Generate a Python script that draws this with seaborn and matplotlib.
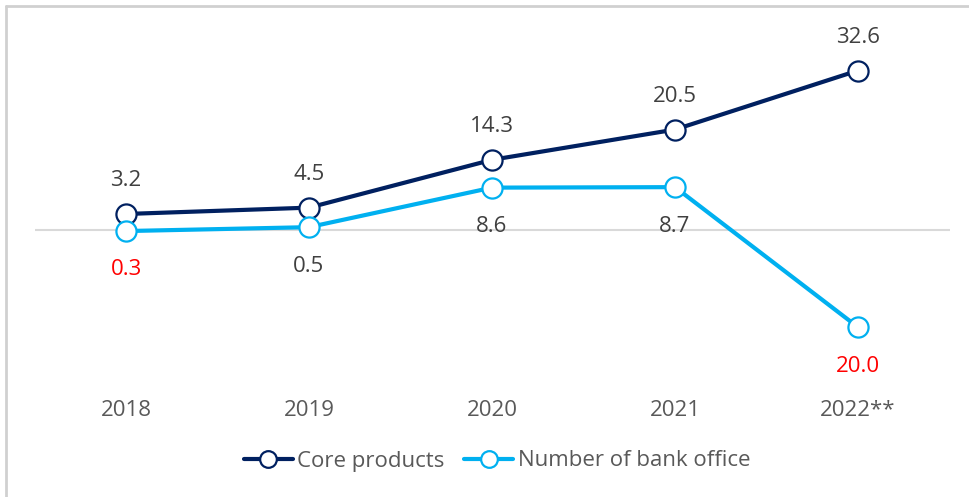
import matplotlib
matplotlib.use("Agg")
import matplotlib.pyplot as plt
from matplotlib.lines import Line2D
import numpy as np
import pandas as pd
import seaborn as sns

# Data
years = ["2018", "2019", "2020", "2021", "2022**"]
core_products = [3.2, 4.5, 14.3, 20.5, 32.6]
bank_office = [-0.3, 0.5, 8.6, 8.7, -20.0]
series_names = ["Core products", "Number of bank office"]

NAVY = "#002060"
SKY = "#00b0f0"
TEXT = "#404040"
NEG = "#ff0000"
FS = 16

sns.set_theme(style="white")
plt.rcParams["font.family"] = ["Open Sans", "DejaVu Sans"]

fig = plt.figure(figsize=(9.69, 4.97), dpi=100)
ax = fig.add_axes([34.5 / 969, 121 / 497, 915 / 969, 341.6 / 497])

pos = np.arange(len(years))
df = pd.DataFrame({
    "pos": np.concatenate([pos, pos]),
    "value": core_products + bank_office,
    "series": [series_names[0]] * len(years) + [series_names[1]] * len(years),
})

ax.axhline(0, color="#d9d9d9", lw=1.5, zorder=1)

for name, color in zip(series_names, [NAVY, SKY]):
    sns.lineplot(
        data=df[df["series"] == name], x="pos", y="value", ax=ax,
        color=color, linewidth=3, marker="o", markersize=14.5,
        markerfacecolor="white", markeredgecolor=color, markeredgewidth=1.6,
        label=name, zorder=3, legend=False,
    )

# Value labels
for x, v in zip(pos, core_products):
    ax.annotate(f"{v:.1f}", (x, v), xytext=(0, 24), textcoords="offset points",
                ha="center", va="center", fontsize=FS, color=TEXT)
for x, v in zip(pos, bank_office):
    ax.annotate(f"{abs(v):.1f}", (x, v), xytext=(0, -28), textcoords="offset points",
                ha="center", va="center", fontsize=FS,
                color=NEG if v < 0 else TEXT)

ax.set_xlim(-0.5, len(years) - 0.5)
ax.set_ylim(-30, 40)
ax.set_xticks(pos)
ax.set_xticklabels(years, fontsize=FS, color="#595959")
ax.tick_params(axis="x", length=0, pad=17)
ax.set_yticks([])
ax.set_xlabel("")
ax.set_ylabel("")
for s in ax.spines.values():
    s.set_visible(False)
ax.patch.set_alpha(0)

handles = [
    Line2D([], [], color=c, lw=3, marker="o", markersize=12,
           markerfacecolor="white", markeredgecolor=c, markeredgewidth=1.6)
    for c in [NAVY, SKY]
]
fig.legend(handles, series_names, loc="center", bbox_to_anchor=(497 / 969, 1 - 461 / 497),
           ncol=2, frameon=False, fontsize=FS, handlelength=2.2, handletextpad=0.2,
           columnspacing=0.9, labelcolor="#595959")

# Panel border along the top and left edges
fig.add_artist(Line2D([5.5 / 969, 1], [1 - 5.5 / 497, 1 - 5.5 / 497],
                      transform=fig.transFigure, color="#d0d0d0", lw=2))
fig.add_artist(Line2D([5.5 / 969, 5.5 / 969], [0, 1 - 5.5 / 497],
                      transform=fig.transFigure, color="#d0d0d0", lw=2))

fig.savefig("out.png", dpi=100, facecolor="white")
